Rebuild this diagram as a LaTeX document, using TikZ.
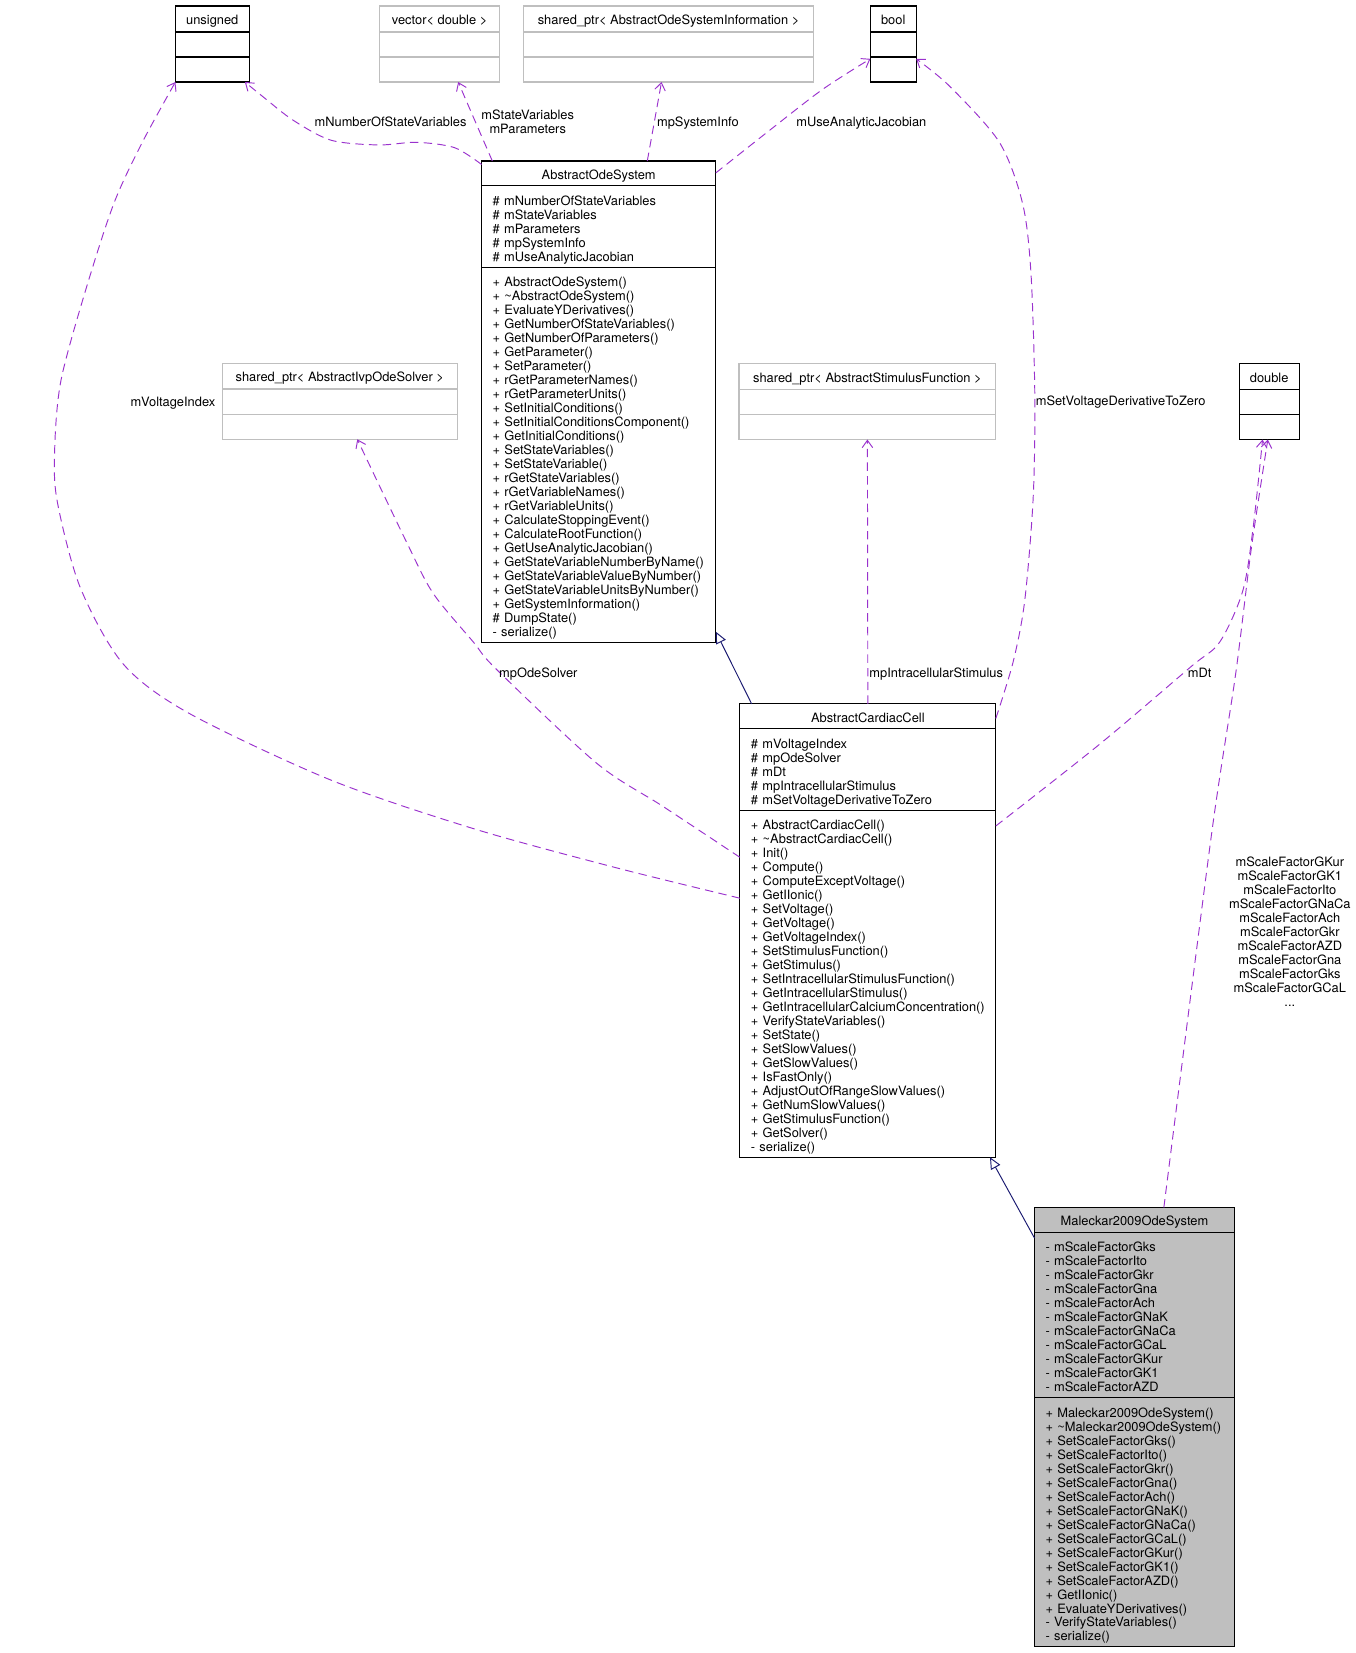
\documentclass[tikz,border=0pt]{standalone}
\usepackage{fontspec}
\setmainfont{TeX Gyre Heros}
\usetikzlibrary{arrows.meta,calc}
\definecolor{purp}{HTML}{9A32CD}
\definecolor{navyc}{HTML}{191970}
\definecolor{greyc}{HTML}{BFBFBF}
\newcommand{\myfs}{\fontsize{12.2pt}{13.27pt}\selectfont}
\begin{document}
\begin{tikzpicture}[x=1pt,y=-1pt,
  cbox/.style={draw=black,line width=1.1pt,inner sep=0pt,outer sep=0pt,anchor=north west},
  gbox/.style={cbox,draw=greyc},
  ttl/.style={anchor=base,inner sep=0pt,font=\myfs},
  mem/.style={anchor=north west,inner sep=0pt,align=left,text width=260pt,font=\myfs,execute at begin node={\noindent\rule{0pt}{10pt}}},
  lbl/.style={anchor=base,inner sep=0pt,font=\myfs},
  mlbl/.style={anchor=north,inner sep=0pt,align=center,text width=160pt,font=\myfs,execute at begin node={\noindent\rule{0pt}{10pt}}},
  dep/.style={draw=purp,line width=0.9pt,dash pattern=on 8pt off 5pt,-{Straight Barb[length=7pt,width=10pt]}},
  inh/.style={draw=navyc,line width=0.9pt,-{Triangle[open,fill=white,length=11pt,width=10pt]}},
  div/.style={line width=1.1pt},
  gdiv/.style={line width=1.1pt,draw=greyc}]
\useasboundingbox (0,0) rectangle (1286,1568);

% ---------- small type boxes ----------
\node[cbox,minimum width=69.9pt,minimum height=72.1pt] (uns) at (166.4,5.7) {};
\node[ttl] (t-uns) at ($(uns.north)+(0,17.6)$) {unsigned};
\draw[div] ($(uns.north west)+(0,24.6)$) -- ($(uns.north east)+(0,24.6)$);
\draw[div] ($(uns.north west)+(0,48.3)$) -- ($(uns.north east)+(0,48.3)$);

\node[gbox,minimum width=114pt,minimum height=72.1pt] (vec) at (360,5.7) {};
\node[ttl] (t-vec) at ($(vec.north)+(0,17.6)$) {vector< double >};
\draw[gdiv] ($(vec.north west)+(0,24.6)$) -- ($(vec.north east)+(0,24.6)$);
\draw[gdiv] ($(vec.north west)+(0,48.3)$) -- ($(vec.north east)+(0,48.3)$);

\node[gbox,minimum width=275pt,minimum height=72.1pt] (sai) at (496.7,5.7) {};
\node[ttl] (t-sai) at ($(sai.north)+(0,17.6)$) {shared\_ptr< AbstractOdeSystemInformation >};
\draw[gdiv] ($(sai.north west)+(0,24.6)$) -- ($(sai.north east)+(0,24.6)$);
\draw[gdiv] ($(sai.north west)+(0,48.3)$) -- ($(sai.north east)+(0,48.3)$);

\node[cbox,minimum width=43.4pt,minimum height=72.1pt] (bool) at (825.6,5.7) {};
\node[ttl] (t-bool) at ($(bool.north)+(0,17.6)$) {bool};
\draw[div] ($(bool.north west)+(0,24.6)$) -- ($(bool.north east)+(0,24.6)$);
\draw[div] ($(bool.north west)+(0,48.3)$) -- ($(bool.north east)+(0,48.3)$);

\node[gbox,minimum width=222.8pt,minimum height=72.1pt] (ios) at (210.9,344.6) {};
\node[ttl] (t-ios) at ($(ios.north)+(0,17.6)$) {shared\_ptr< AbstractIvpOdeSolver >};
\draw[gdiv] ($(ios.north west)+(0,24.4)$) -- ($(ios.north east)+(0,24.4)$);
\draw[gdiv] ($(ios.north west)+(0,48.4)$) -- ($(ios.north east)+(0,48.4)$);

\node[gbox,minimum width=243.6pt,minimum height=72.1pt] (asf) at (701,344.8) {};
\node[ttl] (t-asf) at ($(asf.north)+(0,17.6)$) {shared\_ptr< AbstractStimulusFunction >};
\draw[gdiv] ($(asf.north west)+(0,24.4)$) -- ($(asf.north east)+(0,24.4)$);
\draw[gdiv] ($(asf.north west)+(0,48.4)$) -- ($(asf.north east)+(0,48.4)$);

\node[cbox,minimum width=57pt,minimum height=72pt] (dbl) at (1175.4,345) {};
\node[ttl] (t-dbl) at ($(dbl.north)+(0,17.6)$) {double};
\draw[div] ($(dbl.north west)+(0,24.4)$) -- ($(dbl.north east)+(0,24.4)$);
\draw[div] ($(dbl.north west)+(0,48.4)$) -- ($(dbl.north east)+(0,48.4)$);

% ---------- AbstractOdeSystem ----------
\node[cbox,minimum width=222.2pt,minimum height=456.55pt] (aos) at (456.8,152.7) {};
\node[ttl] (t-aos) at ($(aos.north)+(0,17.4)$) {AbstractOdeSystem};
\draw[div] ($(aos.north west)+(0,23.6)$) -- ($(aos.north east)+(0,23.6)$);
\draw[div] ($(aos.north west)+(0,100.75)$) -- ($(aos.north east)+(0,100.75)$);
\node[mem] (a-aos) at ($(aos.north west)+(10.3,31.9)$) {\# mNumberOfStateVariables\\\# mStateVariables\\\# mParameters\\\# mpSystemInfo\\\# mUseAnalyticJacobian};
\node[mem] (m-aos) at ($(aos.north west)+(10.3,109.05)$) {+ AbstractOdeSystem()\\+ \textasciitilde AbstractOdeSystem()\\+ EvaluateYDerivatives()\\+ GetNumberOfStateVariables()\\+ GetNumberOfParameters()\\+ GetParameter()\\+ SetParameter()\\+ rGetParameterNames()\\+ rGetParameterUnits()\\+ SetInitialConditions()\\+ SetInitialConditionsComponent()\\+ GetInitialConditions()\\+ SetStateVariables()\\+ SetStateVariable()\\+ rGetStateVariables()\\+ rGetVariableNames()\\+ rGetVariableUnits()\\+ CalculateStoppingEvent()\\+ CalculateRootFunction()\\+ GetUseAnalyticJacobian()\\+ GetStateVariableNumberByName()\\+ GetStateVariableValueByNumber()\\+ GetStateVariableUnitsByNumber()\\+ GetSystemInformation()\\\# DumpState()\\- serialize()};

% ---------- AbstractCardiacCell ----------
\node[cbox,minimum width=242.8pt,minimum height=430.05pt] (acc) at (701.8,667.7) {};
\node[ttl] (t-acc) at ($(acc.north)+(0,17.4)$) {AbstractCardiacCell};
\draw[div] ($(acc.north west)+(0,23.6)$) -- ($(acc.north east)+(0,23.6)$);
\draw[div] ($(acc.north west)+(0,100.75)$) -- ($(acc.north east)+(0,100.75)$);
\node[mem] (a-acc) at ($(acc.north west)+(10.3,31.9)$) {\# mVoltageIndex\\\# mpOdeSolver\\\# mDt\\\# mpIntracellularStimulus\\\# mSetVoltageDerivativeToZero};
\node[mem] (m-acc) at ($(acc.north west)+(10.3,109.05)$) {+ AbstractCardiacCell()\\+ \textasciitilde AbstractCardiacCell()\\+ Init()\\+ Compute()\\+ ComputeExceptVoltage()\\+ GetIIonic()\\+ SetVoltage()\\+ GetVoltage()\\+ GetVoltageIndex()\\+ SetStimulusFunction()\\+ GetStimulus()\\+ SetIntracellularStimulusFunction()\\+ GetIntracellularStimulus()\\+ GetIntracellularCalciumConcentration()\\+ VerifyStateVariables()\\+ SetState()\\+ SetSlowValues()\\+ GetSlowValues()\\+ IsFastOnly()\\+ AdjustOutOfRangeSlowValues()\\+ GetNumSlowValues()\\+ GetStimulusFunction()\\+ GetSolver()\\- serialize()};

% ---------- Maleckar2009OdeSystem ----------
\node[cbox,fill=greyc,minimum width=189.7pt,minimum height=416.76pt] (mal) at (981.3,1145.4) {};
\node[ttl] (t-mal) at ($(mal.north)+(0,17.4)$) {Maleckar2009OdeSystem};
\draw[div] ($(mal.north west)+(0,23.6)$) -- ($(mal.north east)+(0,23.6)$);
\draw[div] ($(mal.north west)+(0,180.37)$) -- ($(mal.north east)+(0,180.37)$);
\node[mem] (a-mal) at ($(mal.north west)+(10.3,31.9)$) {- mScaleFactorGks\\- mScaleFactorIto\\- mScaleFactorGkr\\- mScaleFactorGna\\- mScaleFactorAch\\- mScaleFactorGNaK\\- mScaleFactorGNaCa\\- mScaleFactorGCaL\\- mScaleFactorGKur\\- mScaleFactorGK1\\- mScaleFactorAZD};
\node[mem] (m-mal) at ($(mal.north west)+(10.3,188.67)$) {+ Maleckar2009OdeSystem()\\+ \textasciitilde Maleckar2009OdeSystem()\\+ SetScaleFactorGks()\\+ SetScaleFactorIto()\\+ SetScaleFactorGkr()\\+ SetScaleFactorGna()\\+ SetScaleFactorAch()\\+ SetScaleFactorGNaK()\\+ SetScaleFactorGNaCa()\\+ SetScaleFactorGCaL()\\+ SetScaleFactorGKur()\\+ SetScaleFactorGK1()\\+ SetScaleFactorAZD()\\+ GetIIonic()\\+ EvaluateYDerivatives()\\- VerifyStateVariables()\\- serialize()};

% ---------- inheritance ----------
\draw[inh] ($(acc.north west)+(11.2,0)$) -- ($(aos.south east)+(0,-10)$);
\draw[inh] ($(mal.north west)+(0,29)$) -- ($(acc.south east)+(-5.5,0)$);

% ---------- dependencies ----------
\coordinate (e3s) at ($(aos.north west)+(0,3.3)$);
\coordinate (e3e) at ($(uns.south east)+(-4,0)$);
\draw[dep] plot[smooth] coordinates {(e3s) (431,140) (395,135) (359,137.5) (314,133) (278,114) (251,93) (e3e)};

\draw[dep] ($(aos.north west)+(10.2,0)$) -- ($(vec.south west)+(74.6,0)$);
\draw[dep] ($(aos.north west)+(157.2,0)$) -- ($(sai.south west)+(130.8,0)$);

\coordinate (e6s) at ($(aos.north east)+(0,11.3)$);
\coordinate (e6e) at ($(bool.south west)+(0,-22)$);
\draw[dep] plot[smooth] coordinates {(e6s) (727,126) (780,85) (e6e)};

\coordinate (e7s) at ($(acc.north west)+(0,184.3)$);
\coordinate (e7e) at (uns.south west);
\draw[dep] plot[smooth] coordinates {(e7s) (584,823) (449,786) (314,740) (180,677) (117,630) (76,557) (54,474) (52,422) (58,360) (81,276) (108,193) (135,135) (e7e)};

\coordinate (e8s) at ($(acc.north west)+(0,145.5)$);
\coordinate (e8e) at ($(ios.south west)+(128,0)$);
\draw[dep] plot[smooth] coordinates {(e8s) (629,765) (566,724) (471,635) (449,609) (411,563) (386,515) (e8e)};

\draw[dep] (acc.north) -- (asf.south);

\coordinate (e10s) at ($(acc.north east)+(0,13.8)$);
\coordinate (e10e) at ($(bool.south east)+(0,-22)$);
\draw[dep] plot[smooth] coordinates {(e10s) (961,628) (972,570) (980,473) (981.6,376) (978,260) (970,193) (948,135) (901,82) (e10e)};

\coordinate (e11s) at ($(acc.north east)+(0,115.8)$);
\coordinate (e11e) at ($(dbl.south west)+(22.2,0)$);
\draw[dep] plot[smooth] coordinates {(e11s) (1043,706) (1129,633) (1157,609) (1179,560) (1189,498) (e11e)};

\coordinate (e12s) at ($(mal.north west)+(122.7,0)$);
\coordinate (e12e) at ($(dbl.south west)+(27.2,0)$);
\draw[dep] plot[smooth] coordinates {(e12s) (1149,793) (1172,640) (1187,520) (e12e)};

% ---------- labels ----------
\node[lbl] (l1) at (370.5,119.8) {mNumberOfStateVariables};
\node[mlbl] (l2) at (500.6,103.4) {mStateVariables\\mParameters};
\node[lbl] (l3) at (662,119.8) {mpSystemInfo};
\node[lbl] (l4) at (817,119.8) {mUseAnalyticJacobian};
\node[lbl] (l5) at (164,386) {mVoltageIndex};
\node[lbl] (l6) at (510.6,643) {mpOdeSolver};
\node[lbl] (l7) at (888,643) {mpIntracellularStimulus};
\node[lbl] (l8) at (1063,384.8) {mSetVoltageDerivativeToZero};
\node[lbl] (l9) at (1138,642.4) {mDt};
\node[mlbl] (l10) at (1223.5,812) {mScaleFactorGKur\\mScaleFactorGK1\\mScaleFactorIto\\mScaleFactorGNaCa\\mScaleFactorAch\\mScaleFactorGkr\\mScaleFactorAZD\\mScaleFactorGna\\mScaleFactorGks\\mScaleFactorGCaL\\...};
\end{tikzpicture}
\end{document}
